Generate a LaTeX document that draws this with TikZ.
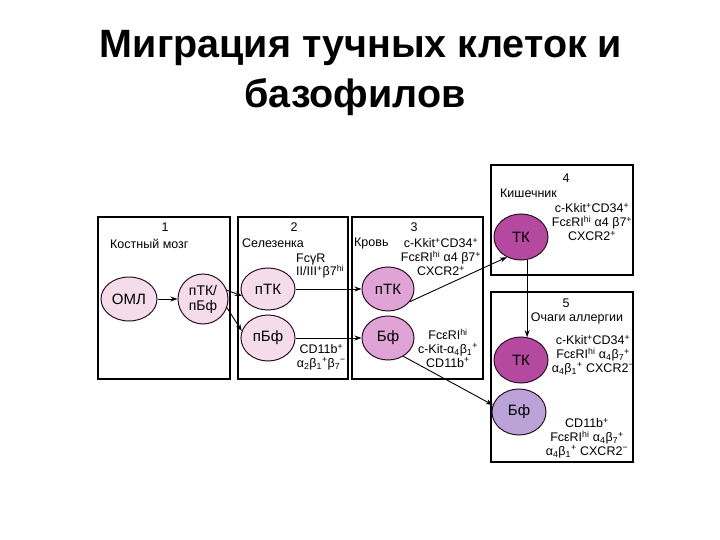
\documentclass[tikz,border=0pt]{standalone}
\usepackage{fontspec}
\setmainfont{Liberation Sans}
\usetikzlibrary{shapes.geometric,arrows.meta}
\newcommand\mysup[1]{\textsuperscript{#1}}
\newcommand\mysub[1]{\textsubscript{#1}}
\definecolor{cpale}{HTML}{F4DCEA}
\definecolor{cmid}{HTML}{E0A3D6}
\definecolor{cdeep}{HTML}{B5489F}
\definecolor{clav}{HTML}{BBA3D8}
\definecolor{cline}{HTML}{2A1024}
\begin{document}
\begin{tikzpicture}[x=1pt,y=-1pt,
  box/.style={draw=black, line width=1.1pt},
  cell/.style={ellipse, draw=cline, line width=1pt, inner sep=0pt, font=\fontsize{15}{15}\selectfont, align=center},
  lab/.style={font=\fontsize{12.5}{13.8}\selectfont, inner sep=0pt, align=center},
  arr/.style={-{Stealth[length=7pt,width=5pt]}, line width=0.9pt}]
\useasboundingbox (0,0) rectangle (720,540);
\fill[white] (0,0) rectangle (720,540);
% title
\node[anchor=base, inner sep=0pt, font=\fontsize{39.5}{40}\selectfont\bfseries] (t1) at (361,58) {Миграция тучных клеток и};
\node[anchor=base, inner sep=0pt, font=\fontsize{39.5}{40}\selectfont\bfseries] (t2) at (355,108) {базофилов};
% boxes
\draw[box] (98,217) rectangle (230,379);
\draw[box] (238,217) rectangle (348,379);
\draw[box] (352,217) rectangle (483,379);
\draw[box] (491,165) rectangle (633,275);
\draw[box] (491,292) rectangle (633,462);
% box labels
\node[lab] (n1) at (165,227) {1};
\node[lab, anchor=west] (l1) at (110,244) {Костный мозг};
\node[lab] (n2) at (294,227) {2};
\node[lab, anchor=west] (l2) at (242,243) {Селезенка};
\node[lab, anchor=west, align=left] (m2a) at (296,266) {FcγR\\II/III\mysup{+}β7\mysup{hi}};
\node[lab, anchor=east, align=center] (m2b) at (346,357) {CD11b\mysup{+}\\α\mysub{2}β\mysub{1}\mysup{+}β\mysub{7}\mysup{−}};
\node[lab] (n3) at (414,227) {3};
\node[lab, anchor=west] (l3) at (354,243) {Кровь};
\node[lab] (m3a) at (441,257) {c-Kkit\mysup{+}CD34\mysup{+}\\FcεRI\mysup{hi} α4 β7\mysup{+}\\CXCR2\mysup{+}};
\node[lab] (m3b) at (448,348) {FcεRI\mysup{hi}\\c-Kit-α\mysub{4}β\mysub{1}\mysup{+}\\CD11b\mysup{+}};
\node[lab] (n4) at (566,178) {4};
\node[lab, anchor=west] (l4) at (500,193) {Кишечник};
\node[lab] (m4) at (592,222) {c-Kkit\mysup{+}CD34\mysup{+}\\FcεRI\mysup{hi} α4 β7\mysup{+}\\CXCR2\mysup{+}};
\node[lab] (n5) at (566,303) {5};
\node[lab] (l5) at (577,318) {Очаги аллергии};
\node[lab] (m5a) at (593,355) {c-Kkit\mysup{+}CD34\mysup{+}\\FcεRI\mysup{hi} α\mysub{4}β\mysub{7}\mysup{+}\\α\mysub{4}β\mysub{1}\mysup{+} CXCR2\mysup{−}};
\node[lab] (m5b) at (587,438) {CD11b\mysup{+}\\FcεRI\mysup{hi} α\mysub{4}β\mysub{7}\mysup{+}\\α\mysub{4}β\mysub{1}\mysup{+} CXCR2\mysup{−}};
% cells
\node[cell, fill=cpale, minimum width=56pt, minimum height=44pt] (oml) at (129,299) {ОМЛ};
\node[cell, fill=cpale, minimum width=50pt, minimum height=50pt, font=\fontsize{14}{15}\selectfont] (src) at (203,299) {пТК/\\пБф};
\node[cell, fill=cpale, minimum width=54pt, minimum height=42pt] (tk2) at (268,289) {пТК};
\node[cell, fill=cpale, minimum width=54pt, minimum height=46pt] (bf2) at (268,338) {пБф};
\node[cell, fill=cmid, minimum width=52pt, minimum height=44pt] (tk3) at (388,289) {пТК};
\node[cell, fill=cmid, minimum width=52pt, minimum height=44pt] (bf3) at (388,338) {Бф};
\node[cell, fill=cdeep, minimum width=54pt, minimum height=46pt] (tk4) at (521,237) {ТК};
\node[cell, fill=cdeep, minimum width=54pt, minimum height=46pt] (tk5) at (521,360) {ТК};
\node[cell, fill=clav, minimum width=54pt, minimum height=46pt] (bf5) at (519,412) {Бф};
% connectors
\draw[arr] (oml.east) -- (src.west);
\draw[arr] (src.20) -- (tk2.195);
\draw[arr] (src.-20) -- (bf2.165);
\draw[arr] (tk2.east) -- (tk3.west);
\draw[arr] (bf2.east) -- (bf3.west);
\draw[arr] (tk3.-30) -- (tk4.235);
\draw[arr] (tk4.-75) -- (tk5.75);
\draw[arr] (bf3.-50) -- (bf5.165);
\end{tikzpicture}
\end{document}
